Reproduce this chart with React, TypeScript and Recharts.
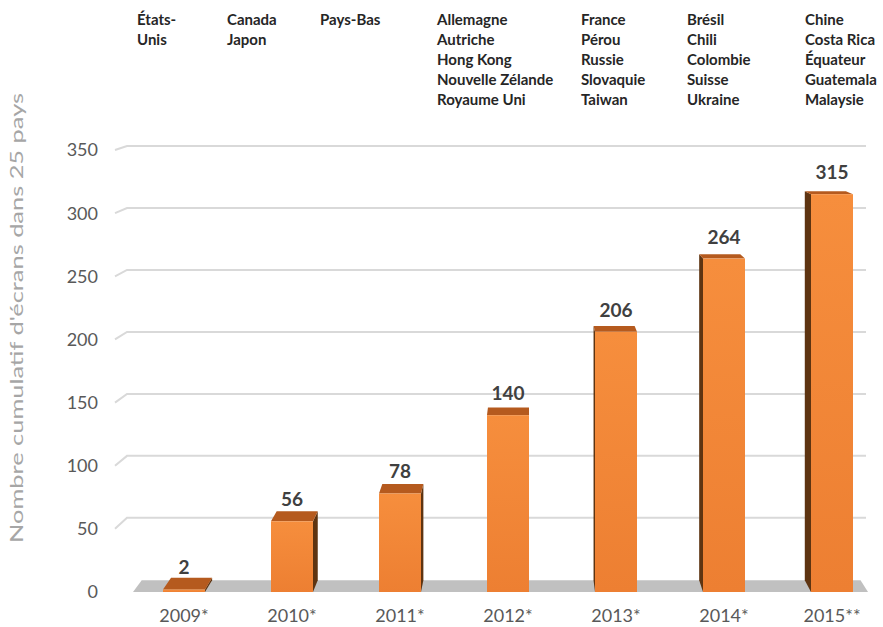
import { BarChart, Bar, XAxis, YAxis, CartesianGrid, LabelList } from "recharts";

const years = ["2009*", "2010*", "2011*", "2012*", "2013*", "2014*", "2015**"];
const screens = [2, 56, 78, 140, 206, 264, 315];
const newCountries = [
  ["États-", "Unis"],
  ["Canada", "Japon"],
  ["Pays-Bas"],
  ["Allemagne", "Autriche", "Hong Kong", "Nouvelle Zélande", "Royaume Uni"],
  ["France", "Pérou", "Russie", "Slovaquie", "Taiwan"],
  ["Brésil", "Chili", "Colombie", "Suisse", "Ukraine"],
  ["Chine", "Costa Rica", "Équateur", "Guatemala", "Malaysie"],
];
const yTicks = [0, 50, 100, 150, 200, 250, 300, 350];
const yTitle = "Nombre cumulatif d'écrans dans 25 pays";

const data = years.map((year, i) => ({ year, screens: screens[i] }));

// left edge of each column of country names
const COLUMN_LEFT = [137, 227, 320, 437, 581, 687, 805];

// fake perspective: everything recedes toward this point
const VPX = 529;
const VPY = 62;
const DEPTH = 0.022;
const back = (px: number, py: number): [number, number] => [px + (VPX - px) * DEPTH, py + (VPY - py) * DEPTH];
const pts = (arr: [number, number][]) => arr.map((p) => p.join(",")).join(" ");

const Bar3D = (props: any) => {
  const { x, y, width, height } = props;
  const l = x, r = x + width, t = y, b = y + height;
  const sideX = x + width / 2 > VPX ? l : r;
  return (
    <g>
      <polygon points={pts([[sideX, t], back(sideX, t), back(sideX, b), [sideX, b]])} fill="#5e3411" />
      <polygon points={pts([[l, t], [r, t], back(r, t), back(l, t)])} fill="#b55a1e" />
      <rect x={l} y={t} width={width} height={height} fill="url(#frontFace)" />
    </g>
  );
};

const GridLine = (props: any) => {
  const { x1, x2, y1 } = props;
  if (y1 > 585) {
    const fl: [number, number] = [x1 + 3, y1];
    const fr: [number, number] = [x2 - 18, y1];
    return <polygon points={pts([fl, fr, back(fr[0], fr[1]), back(fl[0], fl[1])])} fill="#c0c0c0" />;
  }
  const off = 4 + (y1 - 150) * 0.0185;
  return (
    <path
      d={`M${x1 - 15},${y1} L${x1 - 3},${y1 - off} L${x2 - 20},${y1 - off}`}
      stroke="#d9d9d9"
      strokeWidth={2}
      fill="none"
    />
  );
};

const ValueLabel = (props: any) => {
  const { x, y, width, value } = props;
  return (
    <text x={x + width / 2} y={y - 15} textAnchor="middle" fontFamily="Lato" fontWeight={700} fontSize={19} fill="#404040">
      {value}
    </text>
  );
};

const AxisTitle = () => (
  <text
    x={0}
    y={0}
    transform="translate(23,318) rotate(-90)"
    textAnchor="middle"
    fontFamily="Lato"
    fontSize={17}
    fill="#a6a6a6"
    textLength={450}
    lengthAdjust="spacingAndGlyphs"
  >
    {yTitle}
  </text>
);

export default function App() {
  return (
    <div style={{ position: "absolute", left: 0, top: 0, width: 883, height: 627, overflow: "hidden", background: "#fff" }}>
      {newCountries.map((list, i) => (
        <div
          key={years[i]}
          style={{
            position: "absolute",
            left: COLUMN_LEFT[i],
            top: 9,
            fontFamily: "Lato",
            fontWeight: 700,
            fontSize: 15,
            lineHeight: "20px",
            color: "#262626",
            whiteSpace: "nowrap",
          }}
        >
          {list.map((c) => (
            <div key={c}>{c}</div>
          ))}
        </div>
      ))}
      <BarChart width={886} height={627} data={data} margin={{ top: 150, right: 0, left: 70, bottom: 0 }} barSize={42}>
        <defs>
          <linearGradient id="frontFace" x1="0" y1="0" x2="0" y2="1">
            <stop offset="0%" stopColor="#f68e3d" />
            <stop offset="100%" stopColor="#ed7f32" />
          </linearGradient>
        </defs>
        <CartesianGrid vertical={false} horizontal={GridLine} />
        <XAxis
          dataKey="year"
          axisLine={false}
          tickLine={false}
          tickSize={0}
          tickMargin={17}
          height={35}
          tick={{ fill: "#595959", fontSize: 18, fontFamily: "Lato" }}
        />
        <YAxis
          type="number"
          domain={[0, 350]}
          ticks={yTicks}
          axisLine={false}
          tickLine={false}
          tickSize={0}
          tickMargin={32}
          width={60}
          tick={{ fill: "#595959", fontSize: 18, fontFamily: "Lato" }}
          label={{ content: AxisTitle }}
        />
        <Bar dataKey="screens" shape={Bar3D} isAnimationActive={false}>
          <LabelList dataKey="screens" content={ValueLabel} />
        </Bar>
      </BarChart>
    </div>
  );
}
